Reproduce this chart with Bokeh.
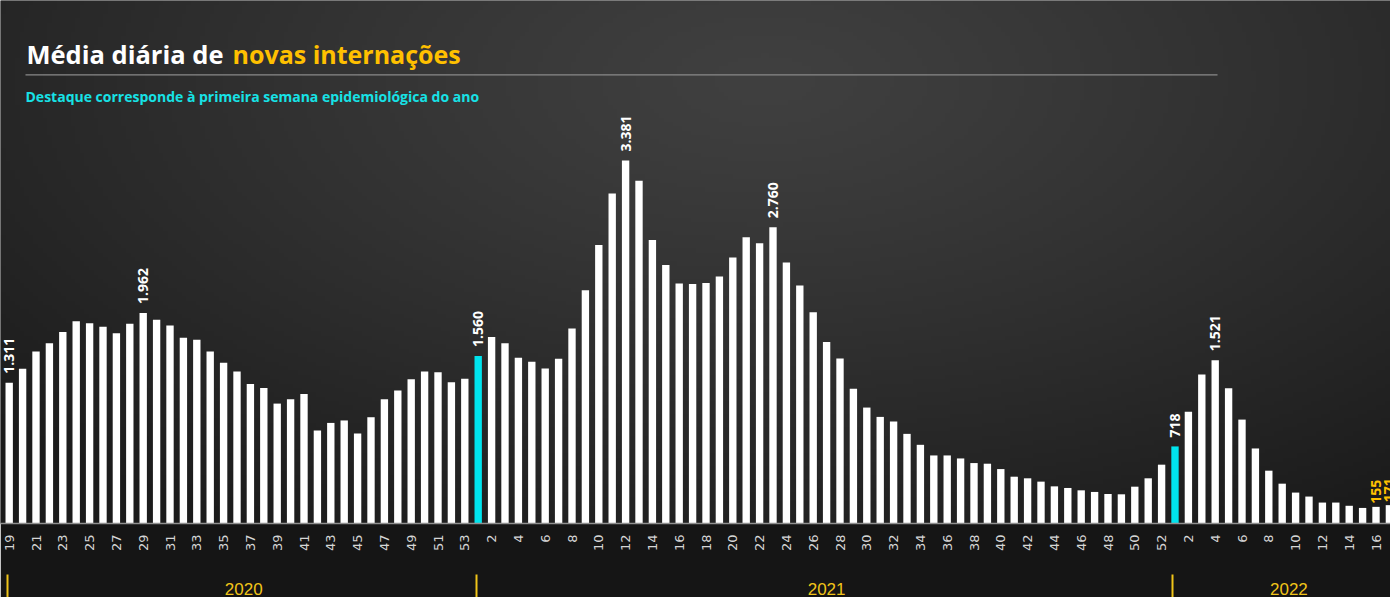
import math
import numpy as np
from bokeh.plotting import figure
from bokeh.models import (ColumnDataSource, Range1d, FixedTicker, LinearAxis,
                          Label, BoxAnnotation)
from bokeh.embed import file_html
from bokeh.resources import INLINE
from bokeh.core.properties import value

# ---------------- data ----------------
title_white = "Média diária de "
title_yellow = "novas internações"
subtitle = "Destaque corresponde à primeira semana epidemiológica do ano"

years = ["2020", "2021", "2022"]
weeks_2020 = list(range(19, 54))
weeks_2021 = list(range(1, 53))
weeks_2022 = list(range(1, 18))

values_2020 = [1311, 1442, 1603, 1680, 1785, 1884, 1865, 1832, 1773, 1860,
               1962, 1897, 1844, 1730, 1711, 1603, 1498, 1417, 1299, 1262,
               1117, 1157, 1206, 867, 937, 960, 839, 990, 1157, 1238,
               1343, 1417, 1408, 1315, 1349]
values_2021 = [1560, 1738, 1680, 1544, 1506, 1445, 1534, 1816, 2172, 2595,
               3075, 3381, 3193, 2641, 2409, 2235, 2230, 2240, 2302, 2478,
               2666, 2611, 2760, 2432, 2218, 1968, 1690, 1538, 1256, 1080,
               993, 950, 835, 733, 634, 634, 606, 563, 557, 507,
               436, 421, 390, 346, 331, 309, 294, 275, 272, 343,
               421, 548]
values_2022 = [718, 1042, 1389, 1521, 1259, 968, 699, 492, 371, 288,
               251, 195, 195, 165, 145, 155, 171]

labelled = [("2020", 19), ("2020", 29), ("2021", 1), ("2021", 12), ("2021", 23),
            ("2022", 1), ("2022", 4), ("2022", 16), ("2022", 17)]
yellow_labelled = [("2022", 16), ("2022", 17)]

# ---------------- styles ----------------
BG_BORDER = "#151515"
WHITE = "#ffffff"
CYAN = "#00e4ee"
GOLD = "#ffc000"
YEAR_GOLD = "#f0c419"

W, H = 1390, 597
FRAME_H = 525
PX_PER_X = 13.4           # pixels per bar slot
UNITS_PER_PX_Y = 9.28     # data units per vertical pixel
PAGE_LEFT, PAGE_TOP = 8, 8
FIRST_BAR_PAGE_X = 16.7

x_start = -(FIRST_BAR_PAGE_X - PAGE_LEFT) / PX_PER_X
x_end = x_start + W / PX_PER_X
y_end = FRAME_H * UNITS_PER_PX_Y


def px_x(px):
    return x_start + (px - PAGE_LEFT) / PX_PER_X


def px_y(py):
    return (PAGE_TOP + FRAME_H - py) * UNITS_PER_PX_Y


# ---------------- assemble ----------------
all_weeks = weeks_2020 + weeks_2021 + weeks_2022
all_years = (["2020"] * len(weeks_2020) + ["2021"] * len(weeks_2021)
             + ["2022"] * len(weeks_2022))
all_vals = values_2020 + values_2021 + values_2022
idx = list(range(len(all_vals)))
colors = [CYAN if w == 1 else WHITE for w in all_weeks]

bars = ColumnDataSource(dict(x=idx, top=all_vals, color=colors))


def fmt(v):
    return f"{v:,}".replace(",", ".")


lx, ly, lt, lc, lo = [], [], [], [], []
for i, (yr, wk, v) in enumerate(zip(all_years, all_weeks, all_vals)):
    if (yr, wk) in labelled:
        small = (yr, wk) in yellow_labelled
        lx.append(i)
        ly.append(v)
        lt.append(fmt(v))
        lc.append(GOLD if small else WHITE)
        lo.append(-3 if small else -9)
labels = ColumnDataSource(dict(x=lx, y=ly, text=lt, color=lc, off=lo))

p = figure(width=W, height=H, title=None,
           x_range=Range1d(x_start, x_end), y_range=Range1d(0, y_end),
           output_backend="svg", toolbar_location=None,
           y_axis_location=None,
           min_border_left=0, min_border_right=0, min_border_top=0,
           min_border_bottom=H - FRAME_H,
           background_fill_color="#262626", border_fill_color=BG_BORDER,
           outline_line_color=None)
p.grid.visible = False

# background gradient (decoration)
gw, gh = 300, 120
u = np.linspace(0, 1, gw)[None, :]
v = np.linspace(0, 1, gh)[:, None]
d = np.sqrt(((u - 0.55) / 0.75) ** 2 + ((v - 0.85) / 1.0) ** 2)
d = np.clip(d, 0, 1)
c = (0x40 - (0x40 - 0x1b) * d ** 1.2).astype(np.uint32)
img = (np.uint32(255) << 24) | (c << 16) | (c << 8) | c
p.image_rgba(image=[img], x=x_start, y=0, dw=x_end - x_start, dh=y_end,
             level="image")

p.vbar(x="x", top="top", bottom=0, width=0.55, fill_color="color",
       line_color=None, source=bars)

p.text(x="x", y="y", text="text", text_color="color", angle=math.pi / 2,
       text_align="left", text_baseline="middle", y_offset="off",
       text_font=value("Open Sans"), text_font_size="14px",
       text_font_style="bold", source=labels)

# title, rule, subtitle
p.add_layout(Label(x=px_x(34), y=px_y(62), text=title_white, text_color=WHITE,
                   text_font="Open Sans", text_font_size="25.5px",
                   text_font_style="bold", text_baseline="alphabetic"))
p.add_layout(Label(x=px_x(240), y=px_y(62), text=title_yellow, text_color=GOLD,
                   text_font="Open Sans", text_font_size="25px",
                   text_font_style="bold", text_baseline="alphabetic"))
p.add_layout(BoxAnnotation(left=px_x(33), right=px_x(1225),
                           bottom=px_y(83.2), top=px_y(82.0),
                           fill_color="#8a8a8a", fill_alpha=1.0,
                           line_color=None, level="overlay"))
p.add_layout(Label(x=px_x(33), y=px_y(104), text=subtitle, text_color="#17e2e6",
                   text_font="Open Sans", text_font_size="14px",
                   text_font_style="bold", text_baseline="alphabetic"))

# week axis
ax = p.xaxis[0]
tick_idx = [i for i in idx if i % 2 == 0]
ax.ticker = FixedTicker(ticks=tick_idx)
ax.major_label_overrides = {i: str(all_weeks[i]) for i in tick_idx}
ax.major_label_orientation = math.pi / 2
ax.major_tick_line_color = None
ax.minor_tick_line_color = None
ax.major_tick_out = 0
ax.major_tick_in = 0
ax.minor_tick_out = 0
ax.minor_tick_in = 0
ax.major_label_standoff = 11
ax.axis_line_color = "#909090"
ax.axis_line_width = 1.5
ax.major_label_text_font = "DejaVu Sans"
ax.major_label_text_font_size = "13px"
ax.major_label_text_color = "#d6d6d6"

# year axis with separators
starts, counts = [], []
s = 0
for wl in (weeks_2020, weeks_2021, weeks_2022):
    starts.append(s)
    counts.append(len(wl))
    s += len(wl)
centers = [st + n / 2 for st, n in zip(starts, counts)]
separators = [st - 0.15 for st in starts]
year_axis = LinearAxis(
    ticker=FixedTicker(ticks=centers, minor_ticks=separators),
    major_label_overrides={cx: yr for cx, yr in zip(centers, years)},
    axis_line_color=None, major_tick_line_color=None,
    major_tick_in=0, major_tick_out=0,
    minor_tick_line_color=YEAR_GOLD, minor_tick_line_width=2,
    minor_tick_in=-20, minor_tick_out=48,
    major_label_standoff=-20, major_label_text_color=YEAR_GOLD,
    major_label_text_font="Liberation Sans",
    major_label_text_font_size="17px")
p.add_layout(year_axis, "below")

open("out.html", "w").write(file_html(p, INLINE))
